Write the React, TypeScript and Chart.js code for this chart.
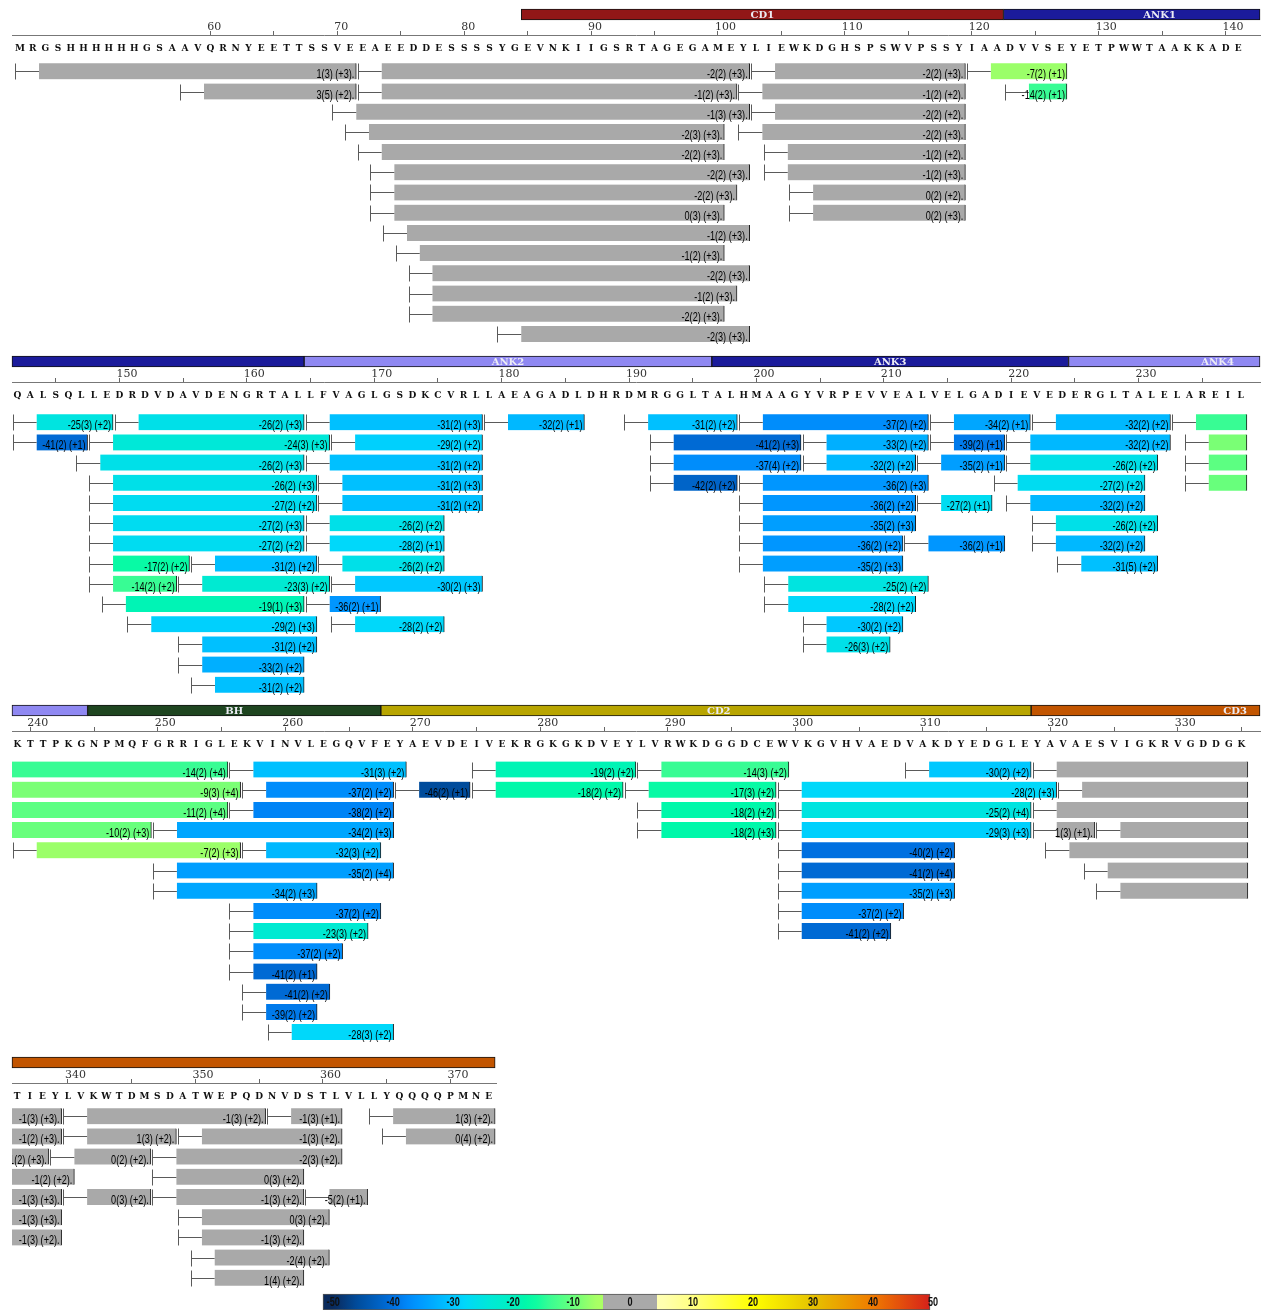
import React, { useEffect, useRef } from 'react';
import { Chart, registerables } from 'chart.js';

Chart.register(...registerables);

// ------------------------------------------------------------------ data
const SEQUENCE =
  'MRGSHHHHHHGSAAVQRNYEETTSSVEEAEEDDESSSSYGEVNKIIGSRTAGEGAMEYLIEWKDGHSPSWVPSSYIAADVVSEYETPWWTAAKKADE' +
  'QALSQLLEDRDVDAVDENGRTALLFVAGLGSDKCVRLLAEAGADLDHRDMRGGLTALHMAAGYVRPEVVEALVELGADIEVEDERGLTALELAREIL' +
  'KTTPKGNPMQFGRRIGLEKVINVLEGQVFEYAEVDEIVEKRGKGKDVEYLVRWKDGGDCEWVKGVHVAEDVAKDYEDGLEYAVAESVIGKRVGDDGK' +
  'TIEYLVKWTDMSDATWEPQDNVDSTLVLLYQQQQPMNE';
const SEQ_START = 45;
const NUMBERED_FROM = 60;
const ROW_FIRST = [45, 142, 239, 336];
const ROW_LAST = [141, 238, 335, 373];

const DOMAIN_NAMES = ['CD1', 'ANK1', 'ANK2', 'ANK3', 'ANK4', 'BH', 'CD2', 'CD3'];
const DOMAIN_START = [85, 123, 165, 197, 225, 245, 268, 319];
const DOMAIN_END = [122, 164, 196, 224, 244, 267, 318, 373];
const DOMAIN_LABEL_AT = [103.5, 134.8, 180.5, 210.5, 236.2, 256, 294, 334.5];

// peptide: [start, end, deltaD, sd, charge, lane]
const PEPTIDES_ROW1 = [
  [45, 71, 1, 3, 3, 1], [72, 102, -2, 2, 3, 1], [103, 119, -2, 2, 3, 1], [120, 127, -7, 2, 1, 1],
  [58, 71, 3, 5, 2, 2], [72, 101, -1, 2, 3, 2], [102, 119, -1, 2, 2, 2], [123, 127, -14, 2, 1, 2],
  [70, 102, -1, 3, 3, 3], [103, 119, -2, 2, 2, 3],
  [71, 100, -2, 3, 3, 4], [102, 119, -2, 2, 3, 4],
  [72, 100, -2, 2, 3, 5], [104, 119, -1, 2, 2, 5],
  [73, 102, -2, 2, 3, 6], [104, 119, -1, 2, 3, 6],
  [73, 101, -2, 2, 3, 7], [106, 119, 0, 2, 2, 7],
  [73, 100, 0, 3, 3, 8], [106, 119, 0, 2, 3, 8],
  [74, 102, -1, 2, 3, 9],
  [75, 100, -1, 2, 3, 10],
  [76, 102, -2, 2, 3, 11],
  [76, 101, -1, 2, 3, 12],
  [76, 100, -2, 2, 3, 13],
  [83, 102, -2, 3, 3, 14],
];
const PEPTIDES_ROW2 = [
  [142, 149, -25, 3, 2, 1], [150, 164, -26, 2, 3, 1], [165, 178, -31, 2, 3, 1], [179, 186, -32, 2, 1, 1],
  [190, 198, -31, 2, 2, 1], [199, 213, -37, 2, 2, 1], [214, 221, -34, 2, 1, 1], [222, 232, -32, 2, 2, 1],
  [233, 255, -14, 2, 4, 1],
  [142, 147, -41, 2, 1, 2], [148, 166, -24, 3, 3, 2], [167, 178, -29, 2, 2, 2], [192, 203, -41, 2, 3, 2],
  [204, 213, -33, 2, 2, 2], [214, 219, -39, 2, 1, 2], [220, 232, -32, 2, 2, 2], [234, 256, -9, 3, 4, 2],
  [147, 164, -26, 2, 3, 3], [165, 178, -31, 2, 2, 3], [192, 203, -37, 4, 2, 3], [204, 212, -32, 2, 2, 3],
  [213, 219, -35, 2, 1, 3], [220, 231, -26, 2, 2, 3], [234, 255, -11, 2, 4, 3],
  [148, 165, -26, 2, 3, 4], [166, 178, -31, 2, 3, 4], [192, 198, -42, 2, 2, 4], [199, 213, -36, 2, 3, 4],
  [219, 230, -27, 2, 2, 4], [234, 249, -10, 2, 3, 4],
  [148, 165, -27, 2, 2, 5], [166, 178, -31, 2, 2, 5], [199, 212, -36, 2, 2, 5], [213, 218, -27, 2, 1, 5],
  [220, 230, -32, 2, 2, 5],
  [148, 164, -27, 2, 3, 6], [165, 175, -26, 2, 2, 6], [199, 212, -35, 2, 3, 6], [222, 231, -26, 2, 2, 6],
  [148, 164, -27, 2, 2, 7], [165, 175, -28, 2, 1, 7], [199, 211, -36, 2, 2, 7], [212, 219, -36, 2, 1, 7],
  [222, 230, -32, 2, 2, 7],
  [148, 155, -17, 2, 2, 8], [156, 165, -31, 2, 2, 8], [166, 175, -26, 2, 2, 8], [199, 211, -35, 2, 3, 8],
  [224, 231, -31, 5, 2, 8],
  [148, 154, -14, 2, 2, 9], [155, 166, -23, 3, 2, 9], [167, 178, -30, 2, 3, 9], [201, 213, -25, 2, 2, 9],
  [149, 164, -19, 1, 3, 10], [165, 170, -36, 2, 1, 10], [201, 212, -28, 2, 2, 10],
  [151, 165, -29, 2, 3, 11], [167, 175, -28, 2, 2, 11], [204, 211, -30, 2, 2, 11],
  [155, 165, -31, 2, 2, 12], [204, 210, -26, 3, 2, 12],
  [155, 164, -33, 2, 2, 13],
  [156, 164, -31, 2, 2, 14],
];
const PEPTIDES_ROW3 = [
  [256, 269, -31, 3, 2, 1], [275, 287, -19, 2, 2, 1], [288, 299, -14, 3, 2, 1], [309, 318, -30, 2, 2, 1],
  [319, 339, -1, 3, 3, 1],
  [257, 268, -37, 2, 2, 2], [269, 274, -46, 2, 1, 2], [275, 286, -18, 2, 2, 2], [287, 298, -17, 3, 2, 2],
  [299, 320, -28, 2, 3, 2], [321, 339, -1, 2, 3, 2],
  [256, 268, -38, 2, 2, 3], [288, 298, -18, 2, 2, 3], [299, 318, -25, 2, 4, 3], [319, 338, -1, 2, 3, 3],
  [250, 268, -34, 2, 3, 4], [288, 298, -18, 2, 3, 4], [299, 318, -29, 3, 3, 4], [319, 323, 1, 3, 1, 4],
  [324, 340, -1, 2, 2, 4],
  [239, 256, -7, 2, 3, 5], [257, 267, -32, 3, 2, 5], [299, 312, -40, 2, 2, 5], [320, 339, -1, 3, 3, 5],
  [250, 268, -35, 2, 4, 6], [299, 312, -41, 2, 4, 6], [323, 339, -1, 3, 3, 6],
  [250, 262, -34, 2, 3, 7], [299, 312, -35, 2, 3, 7], [324, 339, -1, 3, 2, 7],
  [256, 267, -37, 2, 2, 8], [299, 308, -37, 2, 2, 8],
  [256, 266, -23, 3, 2, 9], [299, 307, -41, 2, 2, 9],
  [256, 264, -37, 2, 2, 10],
  [256, 262, -41, 2, 1, 11],
  [257, 263, -41, 2, 2, 12],
  [257, 262, -39, 2, 2, 13],
  [259, 268, -28, 3, 2, 14],
];
const PEPTIDES_ROW4 = [
  [340, 355, -1, 3, 2, 1], [356, 361, -1, 3, 1, 1], [364, 373, 1, 3, 2, 1],
  [340, 348, 1, 3, 2, 2], [349, 361, -1, 3, 2, 2], [365, 373, 0, 4, 2, 2],
  [339, 346, 0, 2, 2, 3], [347, 361, -2, 3, 2, 3],
  [347, 358, 0, 3, 2, 4],
  [340, 346, 0, 3, 2, 5], [347, 358, -1, 3, 2, 5], [359, 363, -5, 2, 1, 5],
  [349, 360, 0, 3, 2, 6],
  [349, 358, -1, 3, 2, 7],
  [350, 360, -2, 4, 2, 8],
  [350, 358, 1, 4, 2, 9],
];
const ALL_PEPTIDES = [...PEPTIDES_ROW1, ...PEPTIDES_ROW2, ...PEPTIDES_ROW3, ...PEPTIDES_ROW4];

const LEGEND_TICKS = [-50, -40, -30, -20, -10, 0, 10, 20, 30, 40, 50];
const LEGEND_MIN = -51.7;
const LEGEND_MAX = 49.5;

// ------------------------------------------------------------------ styles
const DOMAIN_COLORS: Record<string, string> = {
  CD1: '#921717', ANK1: '#1b1b9b', ANK2: '#8f88f2', ANK3: '#1b1b9b', ANK4: '#8f88f2',
  BH: '#1e4520', CD2: '#b8a500', CD3: '#c25500',
};
const GRAY = '#a9a9a9';
const NEG_STOPS: [number, string][] = [
  [-50, '#0a2a5c'], [-46, '#004c9c'], [-42, '#0064c8'], [-40, '#0070e0'], [-38, '#0084f6'],
  [-36, '#0096ff'], [-34, '#00a6ff'], [-32, '#00b8ff'], [-30, '#00c8ff'], [-28, '#00d8fa'],
  [-26, '#00e0e8'], [-24, '#00e8d8'], [-20, '#00f0c0'], [-18, '#00f8aa'], [-16, '#10fca0'],
  [-14, '#38fc94'], [-12, '#50ff88'], [-10, '#68ff7c'], [-8, '#8cff6e'], [-6, '#aaff64'],
];
const POS_STOPS: [number, string][] = [
  [5, '#ffffb0'], [10, '#ffff80'], [20, '#ffff00'], [30, '#e6c200'], [40, '#f07a00'], [50, '#d41c1c'],
];
const LABEL_FONT = '12px "Liberation Sans", Arial, sans-serif';
const LABEL_SQUEEZE = 0.76;
const NUM_FONT = '"DejaVu Serif", "Liberation Serif", serif';
const SEQ_FONT = '"DejaVu Serif", "Liberation Serif", serif';
const PITCH = 20.2;
const AREA_LEFT = 12;
const ROW_LAYOUT = [
  { top: 9, firstLane: 71.3, lanes: 14, pxPerRes: 12.69, firstPx: 20, width: 1248 },
  { top: 356, firstLane: 422.2, lanes: 14, pxPerRes: 12.74, firstPx: 17.5, width: 1248 },
  { top: 705, firstLane: 769.5, lanes: 14, pxPerRes: 12.75, firstPx: 17.5, width: 1248 },
  { top: 1057, firstLane: 1116.2, lanes: 9, pxPerRes: 12.75, firstPx: 17, width: 484 },
];

function hexToRgb(h: string) {
  const n = parseInt(h.slice(1), 16);
  return [(n >> 16) & 255, (n >> 8) & 255, n & 255];
}
function interp(stops: [number, string][], v: number) {
  if (v <= stops[0][0]) return stops[0][1];
  if (v >= stops[stops.length - 1][0]) return stops[stops.length - 1][1];
  for (let i = 0; i < stops.length - 1; i++) {
    const [a, ca] = stops[i];
    const [b, cb] = stops[i + 1];
    if (v >= a && v <= b) {
      const t = (v - a) / (b - a);
      const A = hexToRgb(ca), B = hexToRgb(cb);
      const c = A.map((x, k) => Math.round(x + (B[k] - x) * t));
      return `rgb(${c[0]},${c[1]},${c[2]})`;
    }
  }
  return GRAY;
}
function colorFor(v: number) {
  if (v > -6 && v < 5) return GRAY;
  return v < 0 ? interp(NEG_STOPS, v) : interp(POS_STOPS, v);
}
function legendColor(v: number) {
  if (v >= -5 && v < 4) return GRAY;
  return v < 0 ? interp(NEG_STOPS, Math.min(v, -6)) : interp(POS_STOPS, Math.max(v, 5));
}
function labelFor(p: number[]) {
  const [, , v, sd, z] = p;
  return `${v}(${sd}) (+${z})` + (colorFor(v) === GRAY ? '.' : '');
}
function rowRange(i: number) {
  const L = ROW_LAYOUT[i];
  const min = ROW_FIRST[i] - (L.firstPx - AREA_LEFT) / L.pxPerRes;
  return { min, max: min + L.width / L.pxPerRes };
}

const baseOptions = {
  responsive: false,
  maintainAspectRatio: false,
  animation: false,
  events: [],
  plugins: { legend: { display: false }, tooltip: { enabled: false } },
};

// ------------------------------------------------------------------ chart builders
function domainChart(i: number) {
  const L = ROW_LAYOUT[i];
  const { min, max } = rowRange(i);
  const data: any[] = [];
  const colors: string[] = [];
  DOMAIN_NAMES.forEach((n, k) => {
    const a = Math.max(DOMAIN_START[k] - 0.5, min);
    const b = Math.min(DOMAIN_END[k] + 0.5, max);
    if (b > a) {
      data.push({ x: [a, b], y: 'domain' });
      colors.push(DOMAIN_COLORS[n]);
    }
  });
  const labelPlugin = {
    id: 'domainLabels',
    afterDatasetsDraw(chart: any) {
      const x = chart.scales.x;
      const area = chart.chartArea;
      const ctx = chart.ctx;
      ctx.save();
      ctx.beginPath();
      ctx.rect(area.left, area.top, area.right - area.left, area.bottom - area.top);
      ctx.clip();
      ctx.font = `bold 10px ${SEQ_FONT}`;
      ctx.fillStyle = '#ececf4';
      ctx.textAlign = 'center';
      ctx.textBaseline = 'middle';
      DOMAIN_NAMES.forEach((n, k) => {
        const at = DOMAIN_LABEL_AT[k];
        if (at < min || at > max) return;
        ctx.fillText(n, x.getPixelForValue(at), (area.top + area.bottom) / 2 + 0.5);
      });
      ctx.restore();
    },
  };
  return {
    top: L.top - 1,
    height: 13,
    width: AREA_LEFT + L.width + 2,
    config: {
      type: 'bar',
      data: {
        labels: ['domain'],
        datasets: [{
          data, backgroundColor: colors, borderColor: '#141414', borderWidth: 1,
          borderSkipped: false, barThickness: 11, clip: false,
        }],
      },
      options: {
        ...baseOptions,
        indexAxis: 'y',
        layout: { padding: { left: AREA_LEFT, right: 2, top: 0, bottom: 0 } },
        scales: {
          x: { type: 'linear', min, max, display: false },
          y: { type: 'category', display: false },
        },
      },
      plugins: [labelPlugin],
    },
  };
}

function mainChart(i: number) {
  const L = ROW_LAYOUT[i];
  const first = ROW_FIRST[i];
  const last = ROW_LAST[i];
  const { min, max } = rowRange(i);
  const peps = ALL_PEPTIDES.filter((p) => p[1] >= first && p[0] <= last);
  const bars: any[] = [];
  const colors: string[] = [];
  peps.forEach((p) => {
    const a = Math.max(p[0] + 1.5, first - 0.5, min);
    const b = Math.min(p[1] + 0.5, last + 0.5, max);
    if (b > a) {
      bars.push({ x: [a, b], y: p[5] });
      colors.push(colorFor(p[2]));
    }
  });
  const canvasTop = L.top + 5;
  const areaTop = L.top + 54;
  const height = Math.ceil(L.firstLane + (L.lanes - 1) * PITCH + 12 - canvasTop);
  const yMin = 1 - (L.firstLane - areaTop) / PITCH;
  const yMax = yMin + (canvasTop + height - areaTop) / PITCH;

  const markPlugin = {
    id: 'peptideMarks',
    afterDatasetsDraw(chart: any) {
      const x = chart.scales.x;
      const y = chart.scales.y;
      const area = chart.chartArea;
      const ctx = chart.ctx;
      ctx.save();
      ctx.strokeStyle = '#5a5a5a';
      ctx.lineWidth = 1;
      peps.forEach((p) => {
        const [s, , , , , lane] = p;
        if (s < first || s > last) return;
        const cy = Math.round(y.getPixelForValue(lane)) + 0.5;
        const x1 = Math.round(x.getPixelForValue(s - 0.5) + 1.5) + 0.5;
        const x2 = x.getPixelForValue(Math.min(s + 1.5, last + 0.5));
        ctx.beginPath();
        ctx.moveTo(x1, cy - 8);
        ctx.lineTo(x1, cy + 8);
        ctx.moveTo(x1, cy);
        ctx.lineTo(x2, cy);
        ctx.stroke();
      });
      ctx.beginPath();
      ctx.rect(area.left, 0, area.right - area.left, chart.height);
      ctx.clip();
      ctx.font = LABEL_FONT;
      ctx.fillStyle = '#000';
      ctx.textAlign = 'right';
      ctx.textBaseline = 'alphabetic';
      peps.forEach((p) => {
        const e = p[1];
        if (e < first || e > last) return;
        ctx.save();
        ctx.translate(x.getPixelForValue(e + 0.5) - 2, y.getPixelForValue(p[5]) + 7);
        ctx.scale(LABEL_SQUEEZE, 1);
        ctx.fillText(labelFor(p), 0, 0);
        ctx.restore();
      });
      ctx.restore();
    },
  };

  return {
    top: canvasTop,
    height,
    width: AREA_LEFT + L.width + 2,
    config: {
      type: 'bar',
      data: {
        datasets: [{
          data: bars, backgroundColor: colors, borderColor: '#1e1e1e',
          borderWidth: { top: 0, right: 1, bottom: 0, left: 0 }, borderSkipped: false,
          barThickness: 16, clip: false, xAxisID: 'x', yAxisID: 'y',
        }],
      },
      options: {
        ...baseOptions,
        indexAxis: 'y',
        layout: { padding: { left: AREA_LEFT, right: 2, top: 3, bottom: 0 } },
        scales: {
          x: {
            type: 'linear', position: 'top', min, max, weight: 1, offset: false,
            ticks: {
              stepSize: 5, includeBounds: false, autoSkip: false, maxRotation: 0, minRotation: 0,
              align: 'start', crossAlign: 'center', labelOffset: -3, padding: 3.5, color: '#333',
              font: { family: NUM_FONT, size: 11, lineHeight: '7px' },
              callback: (v: number) => (v % 10 === 0 && v >= NUMBERED_FROM ? String(v) : ''),
            },
            grid: {
              display: true, drawOnChartArea: false, drawTicks: true, tickLength: 4, tickWidth: 1,
              tickColor: (c: any) => (c.tick && c.tick.value >= NUMBERED_FROM ? '#666' : 'rgba(0,0,0,0)'),
            },
            border: { display: true, color: '#777', width: 1 },
          },
          xs: {
            type: 'linear', position: 'top', min, max, weight: 0, offset: false,
            ticks: {
              stepSize: 1, includeBounds: false, autoSkip: false, maxRotation: 0, minRotation: 0,
              padding: 0, color: '#111',
              font: { family: SEQ_FONT, size: 9, weight: 'bold', lineHeight: '28px' },
              callback: (v: number) => {
                if (v < first || v > last || v !== Math.round(v)) return '';
                return SEQUENCE[v - SEQ_START];
              },
            },
            grid: { display: false, drawTicks: false },
            border: { display: false },
          },
          y: {
            type: 'linear', display: false, reverse: true, min: yMin, max: yMax,
            offset: false, grid: { offset: false }, bounds: 'data',
          },
        },
      },
      plugins: [markPlugin],
    },
  };
}

function legendChart() {
  const labelPlugin = {
    id: 'legendLabels',
    afterDatasetsDraw(chart: any) {
      const x = chart.scales.x;
      const area = chart.chartArea;
      const ctx = chart.ctx;
      ctx.save();
      ctx.font = 'bold 12px "Liberation Sans", Arial, sans-serif';
      ctx.fillStyle = '#111';
      ctx.textAlign = 'center';
      ctx.textBaseline = 'middle';
      LEGEND_TICKS.forEach((t) => {
        const at = t === 0 ? -0.5 : t;
        ctx.save();
        ctx.translate(x.getPixelForValue(at), (area.top + area.bottom) / 2 + 1);
        ctx.scale(LABEL_SQUEEZE, 1);
        ctx.fillText(String(t), 0, 0);
        ctx.restore();
      });
      ctx.restore();
    },
  };
  return {
    top: 1292,
    height: 20,
    width: 1262,
    config: {
      type: 'bar',
      data: {
        labels: ['scale'],
        datasets: [{
          data: [{ x: [LEGEND_MIN, LEGEND_MAX], y: 'scale' }],
          backgroundColor: (c: any) => {
            const chart = c.chart;
            const xs = chart.scales && chart.scales.x;
            if (!xs || !chart.chartArea) return GRAY;
            const p0 = xs.getPixelForValue(LEGEND_MIN);
            const p1 = xs.getPixelForValue(LEGEND_MAX);
            const g = chart.ctx.createLinearGradient(p0, 0, p1, 0);
            const pos = (v: number) => Math.min(1, Math.max(0, (v - LEGEND_MIN) / (LEGEND_MAX - LEGEND_MIN)));
            for (let v = LEGEND_MIN; v <= LEGEND_MAX; v += 0.5) {
              g.addColorStop(pos(v), legendColor(v));
            }
            g.addColorStop(pos(-5) - 0.0001, legendColor(-5.01));
            g.addColorStop(pos(-5), GRAY);
            g.addColorStop(pos(4) - 0.0001, GRAY);
            g.addColorStop(pos(4), legendColor(4));
            return g;
          },
          borderColor: '#555', borderWidth: 1, borderSkipped: false, barThickness: 16, clip: false,
        }],
      },
      options: {
        ...baseOptions,
        indexAxis: 'y',
        layout: { padding: { left: 323, right: 332, top: 0, bottom: 0 } },
        scales: {
          x: { type: 'linear', min: LEGEND_MIN, max: LEGEND_MAX, display: false },
          y: { type: 'category', display: false },
        },
      },
      plugins: [labelPlugin],
    },
  };
}

// ------------------------------------------------------------------ components
function ChartCanvas({ spec }: { spec: any }) {
  const ref = useRef<HTMLCanvasElement>(null);
  useEffect(() => {
    const chart = new Chart(ref.current as HTMLCanvasElement, spec.config);
    return () => chart.destroy();
  }, []);
  return (
    <canvas
      ref={ref}
      width={spec.width}
      height={spec.height}
      style={{ position: 'absolute', left: 0, top: spec.top, width: spec.width, height: spec.height }}
    />
  );
}

const SPECS = [
  ...[0, 1, 2, 3].flatMap((i) => [domainChart(i), mainChart(i)]),
  legendChart(),
];

export default function App() {
  return (
    <div style={{ position: 'absolute', left: 0, top: 0, width: 1262, height: 1310, background: '#fff', overflow: 'hidden' }}>
      {SPECS.map((s, k) => (
        <ChartCanvas key={k} spec={s} />
      ))}
    </div>
  );
}
